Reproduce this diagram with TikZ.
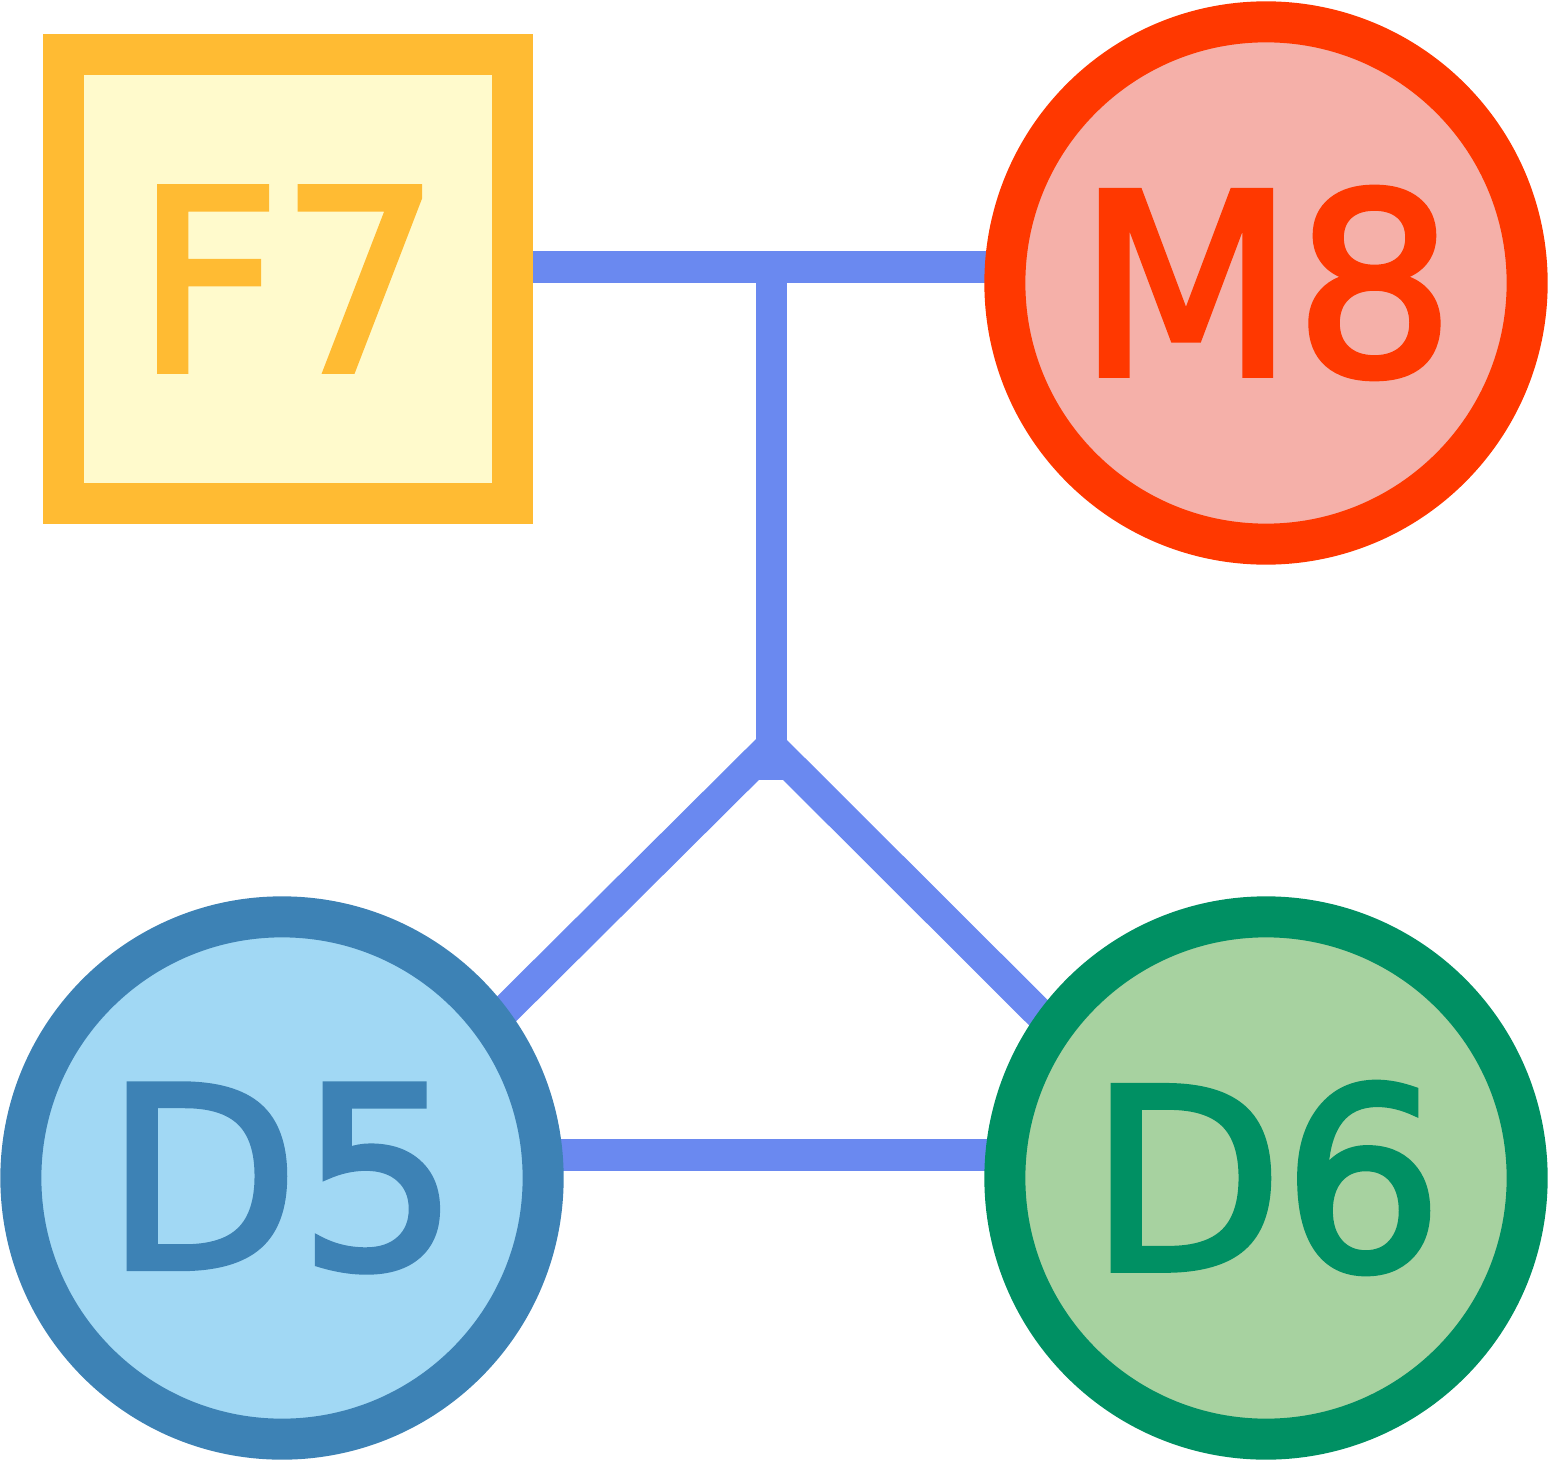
\documentclass[tikz,border=0pt]{standalone}
\usepackage{fontspec}
\usepackage{tikz}
\usetikzlibrary{backgrounds}
\newfontfamily\labelfont{DejaVu Sans}[FakeBold=2.6]

\definecolor{fsevenline}{HTML}{FFBB33}
\definecolor{fsevenfill}{HTML}{FFFACC}
\definecolor{meightline}{HTML}{FF3800}
\definecolor{meightfill}{HTML}{F5B0A9}
\definecolor{dfiveline}{HTML}{3D82B5}
\definecolor{dfivefill}{HTML}{A1D8F4}
\definecolor{dsixline}{HTML}{009063}
\definecolor{dsixfill}{HTML}{A7D2A0}
\definecolor{linkblue}{HTML}{6A89F0}

\begin{document}
\begin{tikzpicture}[
        x=0.01cm, y=-0.01cm,
        every node/.style={align=center, inner sep=0pt, line width=0.41cm,
          font=\labelfont\fontsize{71.5}{71.5}\selectfont},
        boxnode/.style={rectangle, draw=#1line, fill=#1fill, text=#1line, minimum size=4.49cm},
        ringnode/.style={circle, draw=#1line, fill=#1fill, text=#1line, minimum size=5.22cm},
        link/.style={draw=linkblue, line width=0.31cm},
      ]
      \useasboundingbox (0,0) rectangle (1549,1461);
      \node[boxnode=fseven] (f7) at (288,279) {F7};
      \node[ringnode=meight] (m8) at (1266,283) {M8};
      \node[ringnode=dfive] (d5) at (282,1178) {D5};
      \node[ringnode=dsix] (d6) at (1266,1178) {D6};
      \coordinate (top) at (771,267);
      \coordinate (mid) at (771,746);
      \begin{scope}[on background layer]
        \draw[link] (f7 |- top) -- (m8 |- top);
        \draw[link, shorten >=-0.34cm] (top) -- (mid);
        \draw[link, shorten >=-0.3cm] (mid) -- (d5.37);
        \draw[link, shorten >=-0.3cm] (mid) -- (d6.144);
        \draw[link] ([yshift=0.23cm]d5.center) -- ([yshift=0.23cm]d6.center);
      \end{scope}
      \end{tikzpicture}
\end{document}
